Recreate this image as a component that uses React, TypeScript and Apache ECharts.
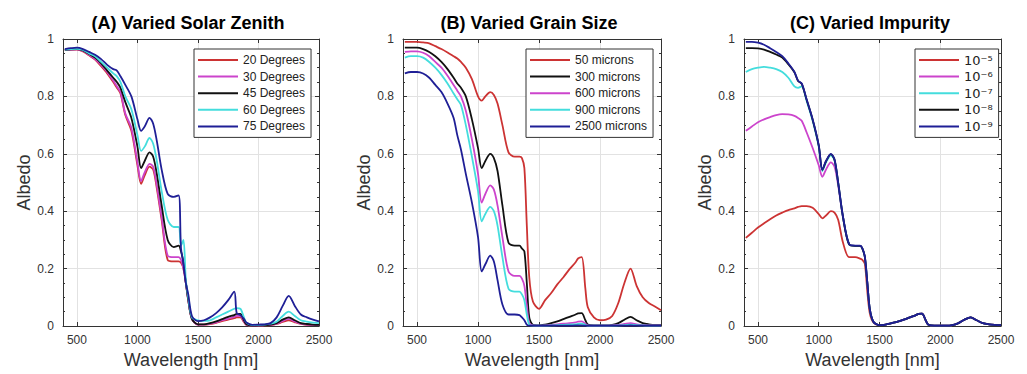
import React, { useEffect, useRef } from "react";
import * as echarts from "echarts";

const WAVELENGTH = [
  400, 450, 500, 550, 600, 650, 700, 750, 800, 830,
  860, 900, 950, 1000, 1030, 1060, 1100, 1130, 1160, 1200,
  1250, 1300, 1340, 1360, 1380, 1400, 1420, 1450, 1500, 1550,
  1600, 1650, 1700, 1750, 1800, 1820, 1850, 1880, 1900, 1950,
  2000, 2050, 2100, 2150, 2200, 2250, 2300, 2350, 2400, 2450,
  2500,
];

const X_TICKS = [500, 1000, 1500, 2000, 2500];
const Y_TICKS = [0, 0.2, 0.4, 0.6, 0.8, 1];

// (A) Varied Solar Zenith
const ZENITH_LABELS = ["20 Degrees", "30 Degrees", "45 Degrees", "60 Degrees", "75 Degrees"];
const ZENITH_20 = [
  .962, .963, .963, .957, .943, .928, .905, .88, .85, .83,
  .81, .735, .68, .56, .495, .525, .555, .545, .48, .37,
  .23, .225, .225, .22, .20, .15, .09, .025, .005, .005,
  .007, .011, .017, .022, .027, .03, .03, .014, .004, .002,
  .002, .002, .003, .007, .014, .02, .013, .007, .004, .003,
  .003,
];
const ZENITH_30 = [
  .962, .963, .964, .958, .945, .93, .91, .885, .855, .835,
  .815, .74, .69, .57, .505, .535, .565, .555, .49, .38,
  .245, .24, .24, .23, .20, .15, .09, .025, .005, .005,
  .008, .013, .02, .026, .032, .035, .035, .016, .005, .002,
  .002, .003, .004, .008, .018, .025, .016, .008, .005, .004,
  .003,
];
const ZENITH_45 = [
  .962, .964, .965, .96, .948, .935, .915, .89, .865, .85,
  .83, .78, .725, .625, .55, .575, .605, .59, .53, .42,
  .30, .275, .28, .26, .22, .15, .09, .025, .006, .006,
  .01, .016, .024, .032, .038, .042, .042, .02, .006, .002,
  .003, .003, .005, .01, .022, .03, .02, .01, .007, .005,
  .004,
];
const ZENITH_60 = [
  .963, .965, .966, .962, .95, .94, .92, .90, .88, .87,
  .85, .80, .755, .665, .61, .625, .655, .635, .575, .47,
  .37, .345, .345, .28, .30, .16, .10, .03, .02, .018,
  .02, .03, .04, .05, .06, .062, .06, .03, .012, .003,
  .004, .005, .008, .015, .035, .05, .035, .02, .015, .012,
  .01,
];
const ZENITH_75 = [
  .965, .968, .97, .965, .955, .945, .93, .91, .895, .89,
  .87, .84, .80, .72, .68, .695, .725, .705, .645, .545,
  .46, .45, .455, .27, .22, .15, .11, .035, .017, .02,
  .03, .045, .065, .09, .12, .045, .038, .025, .012, .004,
  .005, .006, .01, .03, .07, .105, .07, .04, .03, .022,
  .016,
];

// (B) Varied Grain Size
const GRAIN_LABELS = ["50 microns", "300 microns", "600 microns", "900 microns", "2500 microns"];
const GRAIN_50 = [
  .99, .99, .99, .988, .985, .975, .965, .953, .94, .932,
  .92, .90, .86, .80, .785, .80, .815, .805, .775, .70,
  .605, .59, .59, .585, .55, .35, .17, .085, .06, .09,
  .115, .145, .17, .198, .222, .235, .24, .13, .065, .03,
  .02, .022, .035, .08, .15, .20, .14, .10, .08, .068,
  .055,
];
const GRAIN_300 = [
  .97, .97, .97, .965, .955, .94, .92, .895, .865, .845,
  .83, .80, .72, .62, .55, .575, .60, .585, .54, .42,
  .29, .28, .28, .27, .26, .15, .03, .004, .002, .005,
  .01, .016, .024, .032, .04, .044, .045, .02, .005, .002,
  .002, .002, .004, .01, .022, .032, .02, .01, .006, .004,
  .004,
];
const GRAIN_600 = [
  .955, .957, .957, .952, .94, .92, .90, .872, .84, .82,
  .80, .75, .65, .53, .43, .46, .49, .475, .42, .31,
  .19, .175, .175, .165, .14, .07, .01, .002, .001, .002,
  .004, .006, .008, .01, .013, .015, .016, .008, .002, .001,
  .001, .001, .002, .004, .007, .01, .006, .003, .002, .002,
  .002,
];
const GRAIN_900 = [
  .935, .94, .94, .935, .92, .90, .875, .845, .81, .79,
  .77, .70, .59, .47, .365, .39, .415, .40, .35, .24,
  .13, .12, .12, .11, .09, .04, .005, .001, .001, .001,
  .002, .003, .004, .005, .006, .007, .008, .004, .001, .001,
  .001, .001, .001, .002, .003, .005, .003, .002, .001, .001,
  .001,
];
const GRAIN_2500 = [
  .88, .885, .885, .88, .865, .84, .815, .775, .725, .665,
  .615, .53, .43, .31, .19, .215, .245, .225, .16, .075,
  .04, .04, .038, .03, .02, .005, .001, .001, .001, .001,
  .001, .001, .001, .001, .002, .002, .002, .001, .001, .001,
  .001, .001, .001, .001, .001, .002, .001, .001, .001, .001,
  .001,
];

// (C) Varied Impurity
const IMPURITY_LABELS = ["10⁻⁵", "10⁻⁶", "10⁻⁷", "10⁻⁸", "10⁻⁹"];
const IMPURITY_1E5 = [
  .307, .325, .343, .358, .372, .385, .395, .404, .41, .415,
  .418, .418, .412, .39, .375, .385, .40, .395, .37, .29,
  .24, .24, .235, .23, .215, .12, .045, .012, .003, .005,
  .01, .015, .022, .03, .038, .042, .043, .02, .005, .001,
  .001, .001, .003, .01, .022, .03, .02, .01, .006, .004,
  .003,
];
const IMPURITY_1E6 = [
  .68, .695, .71, .72, .728, .735, .738, .737, .732, .725,
  .715, .675, .62, .56, .52, .545, .57, .555, .49, .378,
  .284, .279, .279, .269, .239, .15, .06, .015, .003, .005,
  .01, .015, .022, .03, .038, .042, .043, .02, .005, .001,
  .001, .001, .003, .01, .022, .03, .02, .01, .006, .004,
  .003,
];
const IMPURITY_1E7 = [
  .885, .895, .90, .903, .90, .895, .885, .865, .835, .83,
  .835, .785, .715, .625, .54, .57, .595, .577, .498, .379,
  .284, .279, .279, .269, .239, .15, .06, .015, .003, .005,
  .01, .015, .022, .03, .038, .042, .043, .02, .005, .001,
  .001, .001, .003, .01, .022, .03, .02, .01, .006, .004,
  .003,
];
const IMPURITY_1E8 = [
  .968, .968, .967, .963, .955, .946, .935, .912, .884, .854,
  .844, .789, .719, .629, .544, .574, .599, .579, .499, .379,
  .284, .279, .279, .269, .239, .15, .06, .015, .003, .005,
  .01, .015, .022, .03, .038, .042, .043, .02, .005, .001,
  .001, .001, .003, .01, .022, .03, .02, .01, .006, .004,
  .003,
];
const IMPURITY_1E9 = [
  .99, .99, .987, .98, .968, .955, .94, .915, .885, .855,
  .845, .79, .72, .63, .545, .575, .60, .58, .50, .38,
  .285, .28, .28, .27, .24, .15, .06, .015, .003, .005,
  .01, .015, .022, .03, .038, .042, .043, .02, .005, .001,
  .001, .001, .003, .01, .022, .03, .02, .01, .006, .004,
  .003,
];

const RED = "#cc3333";
const MAGENTA = "#cc44cc";
const BLACK = "#111111";
const CYAN = "#44dddd";
const NAVY = "#1f1f96";

const FONT = "'Liberation Sans', Arial, Helvetica, sans-serif";
const AXIS_COLOR = "#333333";
const GRID_COLOR = "#e2e2e2";

const PANELS = [
  {
    title: "(A) Varied Solar Zenith",
    left: 63, width: 256, titleX: 188, legendLeft: 194,
    names: ZENITH_LABELS,
    values: [ZENITH_20, ZENITH_30, ZENITH_45, ZENITH_60, ZENITH_75],
    colors: [RED, MAGENTA, BLACK, CYAN, NAVY],
  },
  {
    title: "(B) Varied Grain Size",
    left: 403, width: 258, titleX: 529, legendLeft: 526,
    names: GRAIN_LABELS,
    values: [GRAIN_50, GRAIN_300, GRAIN_600, GRAIN_900, GRAIN_2500],
    colors: [RED, BLACK, MAGENTA, CYAN, NAVY],
  },
  {
    title: "(C) Varied Impurity",
    left: 744, width: 257, titleX: 870, legendLeft: 915,
    names: IMPURITY_LABELS,
    values: [IMPURITY_1E5, IMPURITY_1E6, IMPURITY_1E7, IMPURITY_1E8, IMPURITY_1E9],
    colors: [RED, MAGENTA, CYAN, BLACK, NAVY],
  },
];

function buildOption() {
  const grids: any[] = [];
  const xAxes: any[] = [];
  const yAxes: any[] = [];
  const series: any[] = [];
  const legends: any[] = [];
  const titles: any[] = [];

  const axisLine = { show: true, onZero: false, lineStyle: { color: AXIS_COLOR, width: 1 } };
  const tick = { show: true, inside: true, length: 4, lineStyle: { color: AXIS_COLOR, width: 1 } };
  const minor = { show: true, splitNumber: 4, length: 2, lineStyle: { color: AXIS_COLOR, width: 1 } };

  PANELS.forEach((p, i) => {
    grids.push({ left: p.left, top: 39, width: p.width, height: 288, containLabel: false });
    titles.push({
      text: p.title,
      left: p.titleX,
      top: 14,
      textAlign: "center",
      padding: 0,
      textStyle: { fontSize: 18, fontWeight: "bold", color: "#000", fontFamily: FONT },
    });
    const xCommon = {
      type: "value",
      gridIndex: i,
      min: 385,
      max: 2500,
      minInterval: 500,
      maxInterval: 500,
    };
    xAxes.push({
      ...xCommon,
      position: "bottom",
      name: "Wavelength [nm]",
      nameLocation: "middle",
      nameGap: 25,
      nameTextStyle: { fontSize: 18, color: AXIS_COLOR, fontFamily: FONT },
      axisLine,
      axisTick: tick,
      axisLabel: {
        showMinLabel: false,
        color: AXIS_COLOR,
        fontSize: 12,
        margin: 8,
        fontFamily: FONT,
        formatter: (v: number) => (X_TICKS.includes(v) ? String(v) : ""),
      },
      splitLine: { show: true, lineStyle: { color: GRID_COLOR, width: 1 } },
    });
    xAxes.push({
      ...xCommon,
      position: "top",
      axisLine,
      axisTick: tick,
      axisLabel: { show: false },
      splitLine: { show: false },
    });
    const yCommon = { type: "value", gridIndex: i, min: 0, max: 1, interval: 0.2 };
    yAxes.push({
      ...yCommon,
      position: "left",
      name: "Albedo",
      nameLocation: "middle",
      nameGap: 27,
      nameTextStyle: { fontSize: 18, color: AXIS_COLOR, fontFamily: FONT },
      axisLine,
      axisTick: tick,
      minorTick: minor,
      axisLabel: {
        color: AXIS_COLOR,
        fontSize: 12,
        margin: 9,
        fontFamily: FONT,
        formatter: (v: number) => {
          const t = Y_TICKS.find((y) => Math.abs(y - v) < 1e-9);
          return t === undefined ? "" : String(t);
        },
      },
      splitLine: { show: true, lineStyle: { color: GRID_COLOR, width: 1 } },
    });
    yAxes.push({
      ...yCommon,
      position: "right",
      axisLine,
      axisTick: tick,
      minorTick: minor,
      axisLabel: { show: false },
      splitLine: { show: false },
    });

    p.names.forEach((name, k) => {
      const vals = p.values[k];
      series.push({
        type: "line",
        name,
        xAxisIndex: 2 * i,
        yAxisIndex: 2 * i,
        data: WAVELENGTH.map((w, j) => [w, vals[j]]),
        symbol: "none",
        showSymbol: false,
        smooth: 0.3,
        lineStyle: { width: 1.8, color: p.colors[k] },
        itemStyle: { color: p.colors[k] },
        clip: true,
      });
    });

    legends.push({
      orient: "vertical",
      left: p.legendLeft,
      top: 49,
      data: p.names,
      icon: "rect",
      itemWidth: 40,
      itemHeight: 2,
      itemGap: 2.6,
      padding: [4, 6, 4, 4],
      borderColor: AXIS_COLOR,
      borderWidth: 1,
      backgroundColor: "#fff",
      selectedMode: false,
      textStyle: {
        fontSize: i === 2 ? 13 : 12,
        color: "#222",
        lineHeight: 14,
        fontFamily: i === 2 ? "'DejaVu Sans', " + FONT : FONT,
      },
    });
  });

  return {
    animation: false,
    backgroundColor: "#ffffff",
    title: titles,
    grid: grids,
    xAxis: xAxes,
    yAxis: yAxes,
    legend: legends,
    series,
  };
}

export default function App() {
  const ref = useRef<HTMLDivElement>(null);
  useEffect(() => {
    if (!ref.current) return;
    const chart = echarts.init(ref.current, undefined, { renderer: "svg" });
    chart.setOption(buildOption() as any);
    return () => chart.dispose();
  }, []);
  return (
    <div
      ref={ref}
      style={{ position: "absolute", left: 0, top: 0, width: 1027, height: 374, background: "#fff" }}
    />
  );
}
